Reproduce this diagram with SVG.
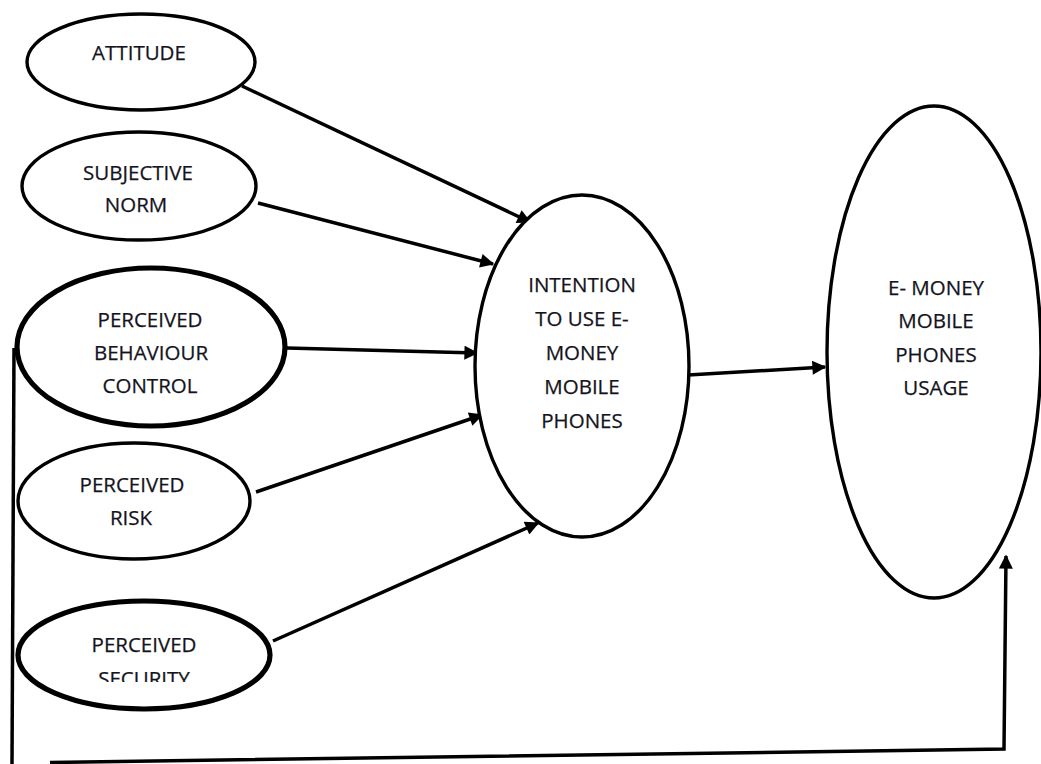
<svg xmlns="http://www.w3.org/2000/svg" width="1041" height="764" viewBox="0 0 1041 764">
<style>
.n{fill:#fff;stroke:#000;stroke-width:3.4}
.thick{stroke-width:5.2}
.t{font-family:"Open Sans","Liberation Sans",sans-serif;font-size:20.5px;fill:#141420;stroke:#141420;stroke-width:0.25;text-anchor:middle}
.c{fill:none;stroke:#000;stroke-width:3.5}
</style>
<defs>
<marker id="ah" viewBox="0 0 10 10" refX="9" refY="5" markerWidth="4.4" markerHeight="4" markerUnits="strokeWidth" orient="auto">
<path d="M0,0 L10,5 L0,10 Z" fill="#000"/>
</marker>
<clipPath id="secclip"><rect x="0" y="600" width="300" height="82"/></clipPath>
</defs>
<rect width="1041" height="764" fill="#fff"/>
<g id="connectors">
<line class="c" x1="242" y1="86" x2="530" y2="222" marker-end="url(#ah)"/>
<line class="c" x1="258" y1="203" x2="493" y2="264" marker-end="url(#ah)"/>
<line class="c" x1="287" y1="348" x2="477" y2="353" marker-end="url(#ah)"/>
<line class="c" x1="256" y1="492" x2="482" y2="415" marker-end="url(#ah)"/>
<line class="c" x1="273" y1="641" x2="538" y2="523" marker-end="url(#ah)"/>
<line class="c" x1="688" y1="375" x2="825" y2="367" marker-end="url(#ah)"/>
<polyline class="c" points="14,348 12,764"/>
<polyline class="c" points="50,762.5 1004,749 1006,556" marker-end="url(#ah)"/>
</g>
<g id="attitude">
<ellipse class="n" cx="141" cy="62" rx="114" ry="48"/>
<text class="t" x="139" y="60">ATTITUDE</text>
</g>
<g id="subjective-norm">
<ellipse class="n" cx="139" cy="186" rx="117" ry="54"/>
<text class="t" x="138" y="180">SUBJECTIVE</text>
<text class="t" x="136" y="212">NORM</text>
</g>
<g id="perceived-behaviour-control">
<ellipse class="n thick" cx="151" cy="347" rx="134" ry="79"/>
<text class="t" x="150" y="327">PERCEIVED</text>
<text class="t" x="151" y="360">BEHAVIOUR</text>
<text class="t" x="150" y="393">CONTROL</text>
</g>
<g id="perceived-risk">
<ellipse class="n" cx="134" cy="501" rx="116" ry="58"/>
<text class="t" x="132" y="492">PERCEIVED</text>
<text class="t" x="131" y="525">RISK</text>
</g>
<g id="perceived-security">
<ellipse class="n thick" cx="144" cy="655" rx="126" ry="54"/>
<text class="t" x="144" y="652">PERCEIVED</text>
<text class="t" x="144" y="686" clip-path="url(#secclip)">SECURITY</text>
</g>
<g id="intention">
<ellipse class="n" cx="582" cy="366" rx="107" ry="171"/>
<text class="t" x="582" y="292">INTENTION</text>
<text class="t" x="582" y="326">TO USE E-</text>
<text class="t" x="582" y="360">MONEY</text>
<text class="t" x="582" y="394">MOBILE</text>
<text class="t" x="582" y="428">PHONES</text>
</g>
<g id="usage">
<ellipse class="n" cx="934" cy="352" rx="107" ry="246"/>
<text class="t" x="936" y="295">E- MONEY</text>
<text class="t" x="936" y="328">MOBILE</text>
<text class="t" x="936" y="362">PHONES</text>
<text class="t" x="936" y="395">USAGE</text>
</g>
</svg>
